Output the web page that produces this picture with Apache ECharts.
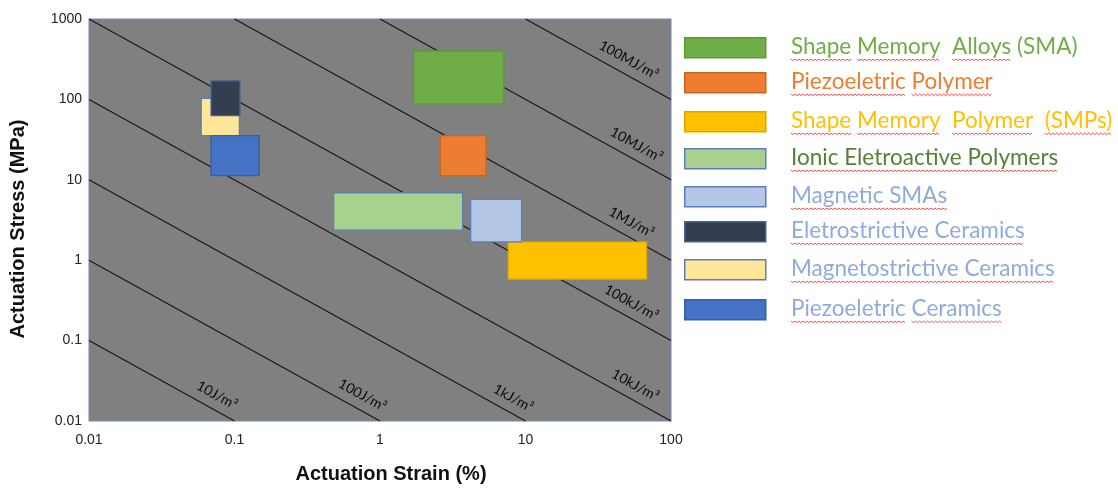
<!DOCTYPE html>
<html><head><meta charset="utf-8">
<script src="https://cdn.jsdelivr.net/npm/echarts@6/dist/echarts.min.js"></script>
<style>html,body{margin:0;padding:0;background:#fff}#c{width:1118px;height:489px}</style>
</head><body><div id="c"></div>
<script>
// ---- data ----
const materials = ['Shape Memory  Alloys (SMA)','Piezoeletric Polymer','Shape Memory  Polymer  (SMPs)','Ionic Eletroactive Polymers','Magnetic SMAs','Eletrostrictive Ceramics','Magnetostrictive Ceramics','Piezoeletric Ceramics'];
const strainMin = [1.7, 2.6, 7.6, 0.48, 4.2, 0.069, 0.059, 0.069];
const strainMax = [7.1, 5.35, 68, 3.7, 9.4, 0.109, 0.108, 0.148];
const stressMin = [88, 11.3, 0.58, 2.36, 1.69, 63, 35.5, 11.3];
const stressMax = [400, 35.5, 1.69, 6.9, 5.7, 170, 103, 35.5];
const drawOrder = [0, 1, 2, 3, 4, 6, 5, 7];
const xTickLabels = ['0.01','0.1','1','10','100'];
const yTickLabels = ['0.01','0.1','1','10','100','1000'];
const isoLabels = ['10J/m³','100J/m³','1kJ/m³','10kJ/m³','100kJ/m³','1MJ/m³','10MJ/m³','100MJ/m³'];
const isoStart = [[0.01,0.1],[0.01,1],[0.01,10],[0.01,100],[0.01,1000],[0.1,1000],[1,1000],[10,1000]];
const isoEnd = [[0.1,0.01],[1,0.01],[10,0.01],[100,0.01],[100,0.1],[100,1],[100,10],[100,100]];
const isoLabelStrain = [0.068, 0.68, 7.4, 51, 48, 48, 52, 46];
const underlineParts = [['Shape','Memory','Alloys'],['Piezoeletric','Polymer'],['Shape','Memory','Polymer','(SMPs)'],['Ionic Eletroactive Polymers'],['Magnetic SMAs'],['Eletrostrictive Ceramics'],['Magnetostrictive Ceramics'],['Piezoeletric','Ceramics']];

// ---- styles ----
const fills =   ['#70AD47','#ED7D31','#FFC000','#A9D18E','#B4C7E7','#333F50','#FFE699','#4472C4'];
const strokes = ['#5b9a37','#c9651f','#d9a300','#5a7fb8','#5a7fb8','#4a6291','#5a7fb8','#3a5f9f'];
const textColors = ['#70AD47','#ED7D31','#FFC000','#548235','#8FAADC','#8FAADC','#8FAADC','#8FAADC'];
const legendTop = [37, 72, 111, 148, 186, 221, 259, 299];

const chart = echarts.init(document.getElementById('c'));
const lgFont = '22.5px Lato';
const mctx = document.createElement('canvas').getContext('2d');
mctx.font = lgFont;

function wave(x0, x1, y) {
  const pts = [];
  let k = 0;
  for (let x = x0; x <= x1; x += 2, k++) pts.push([x, y + (k % 2 ? 1.6 : 0)]);
  return pts;
}

const graphics = [];
materials.forEach((name, i) => {
  const top = legendTop[i];
  graphics.push({type:'rect', left:684, top:top, shape:{x:0,y:0,width:81,height:20}, style:{fill:fills[i], stroke:strokes[i], lineWidth:1.5}});
  const tx = 791, ty = top + 10;
  graphics.push({type:'text', x:tx, y:ty, style:{text:name, font:lgFont, fill:textColors[i], verticalAlign:'middle', align:'left'}});
  let searchFrom = 0;
  underlineParts[i].forEach(part => {
    const idx = name.indexOf(part, searchFrom);
    searchFrom = idx + part.length;
    const a = tx + mctx.measureText(name.slice(0, idx)).width;
    const b = tx + mctx.measureText(name.slice(0, idx + part.length)).width;
    graphics.push({type:'polyline', shape:{points:wave(a, b, ty + 12)}, style:{stroke:'#f25050', lineWidth:1, fill:null}, silent:true});
  });
});

const series = [];
isoStart.forEach((s, i) => {
  series.push({type:'line', data:[s, isoEnd[i]], symbol:'none', silent:true, z:1, clip:true,
    lineStyle:{color:'#151515', width:1.1}});
});
series.push({
  type:'custom', z:3, silent:true,
  data: drawOrder.map(i => [strainMin[i], stressMin[i], strainMax[i], stressMax[i], i]),
  encode:{x:[0,2], y:[1,3]},
  renderItem: (params, api) => {
    const i = api.value(4);
    const p0 = api.coord([api.value(0), api.value(3)]);
    const p1 = api.coord([api.value(2), api.value(1)]);
    return {type:'rect', shape:{x:p0[0], y:p0[1], width:p1[0]-p0[0], height:p1[1]-p0[1]},
      style:{fill:fills[i], stroke:strokes[i], lineWidth:1.3}};
  }
});
series.push({
  type:'custom', z:4, silent:true,
  data: isoLabels.map((l, i) => [isoLabelStrain[i], i]),
  encode:{x:0},
  renderItem: (params, api) => {
    const i = params.dataIndex;
    const s = isoStart[i], e = isoEnd[i];
    const a0 = api.coord(s), a1 = api.coord(e);
    const t = (Math.log10(isoLabelStrain[i]) - Math.log10(s[0])) / (Math.log10(e[0]) - Math.log10(s[0]));
    const px = a0[0] + t * (a1[0] - a0[0]);
    const py = a0[1] + t * (a1[1] - a0[1]);
    const ang = Math.atan2(a1[1] - a0[1], a1[0] - a0[0]);
    const d = 14;
    return {type:'text', x: px + d * Math.sin(ang), y: py - d * Math.cos(ang), rotation: -ang,
      style:{text: isoLabels[i], font:'14px Lato', fill:'#0a0a0a', align:'center', verticalAlign:'middle'}};
  }
});

chart.setOption({
  animation:false,
  grid:{left:89, right:447, top:19, bottom:67, show:true, backgroundColor:'#808080', borderColor:'#6d89b8', borderWidth:1},
  xAxis:{type:'log', logBase:10, min:0.01, max:100,
    axisLine:{show:false}, axisTick:{show:false}, splitLine:{show:false},
    axisLabel:{margin:12, fontSize:14, fontFamily:'Liberation Sans', color:'#222',
      formatter: v => xTickLabels[Math.round(Math.log10(v)) + 2]},
    name:'Actuation Strain (%)', nameLocation:'middle', nameGap:43,
    nameTextStyle:{fontWeight:'bold', fontSize:20, fontFamily:'Liberation Sans', color:'#111', padding:[0,0,0,22]}},
  yAxis:{type:'log', logBase:10, min:0.01, max:1000,
    axisLine:{show:false}, axisTick:{show:false}, splitLine:{show:false},
    axisLabel:{margin:7, fontSize:14, fontFamily:'Liberation Sans', color:'#222',
      formatter: v => yTickLabels[Math.round(Math.log10(v)) + 2]},
    name:'Actuation Stress (MPa)', nameLocation:'middle', nameGap:61,
    nameTextStyle:{fontWeight:'bold', fontSize:20, fontFamily:'Liberation Sans', color:'#111', padding:[0,18,0,0]}},
  graphic: graphics,
  series: series
});
</script>
</body></html>
